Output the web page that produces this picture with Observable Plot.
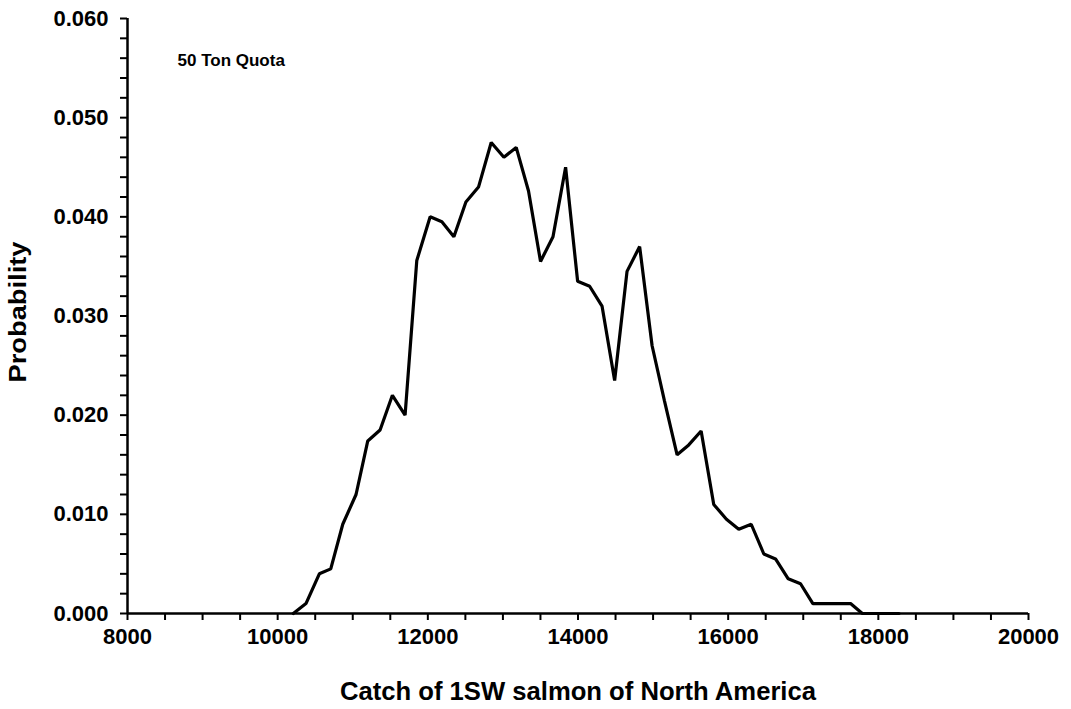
<!DOCTYPE html>
<html>
<head>
<meta charset="utf-8">
<script src="https://cdn.jsdelivr.net/npm/d3@7"></script>
<script src="https://cdn.jsdelivr.net/npm/@observablehq/plot@0.6"></script>
<style>
  html, body { margin: 0; padding: 0; background: #fff; }
  #chart { width: 1071px; height: 709px; }
</style>
</head>
<body>
<div id="chart"></div>
<script>
// Catch values (x)
const catchValues = [10208, 10377, 10555, 10707, 10867, 11044, 11200, 11364, 11528, 11697,
  11853, 12031, 12187, 12347, 12507, 12675, 12844, 13013, 13177, 13341,
  13501, 13667, 13835, 13995, 14155, 14320, 14488, 14653, 14821, 14987,
  15150, 15320, 15475, 15640, 15808, 15977, 16141, 16307, 16475, 16631,
  16800, 16964, 17128, 17290, 17460, 17630, 17787, 17950, 18120, 18275];
// Probability values (y)
const probabilities = [0, 0.001, 0.004, 0.0045, 0.009, 0.012, 0.0174, 0.0185, 0.022, 0.020,
  0.0356, 0.040, 0.0395, 0.038, 0.0415, 0.043, 0.0475, 0.046, 0.047, 0.0426,
  0.0355, 0.038, 0.045, 0.0335, 0.033, 0.031, 0.0235, 0.0345, 0.037, 0.027,
  0.0215, 0.016, 0.017, 0.0184, 0.011, 0.0095, 0.0085, 0.009, 0.006, 0.0055,
  0.0035, 0.003, 0.001, 0.001, 0.001, 0.001, 0, 0, 0, 0];

const xMajorTicks = [8000, 10000, 12000, 14000, 16000, 18000, 20000];
const xMinorTicks = [8500, 9000, 9500, 10500, 11000, 11500, 12500, 13000, 13500, 14500, 15000, 15500, 16500, 17000, 17500, 18500, 19000, 19500];
const yMajorTicks = [0, 0.01, 0.02, 0.03, 0.04, 0.05, 0.06];
const yMinorTicks = [0.002, 0.004, 0.006, 0.008, 0.012, 0.014, 0.016, 0.018, 0.022, 0.024, 0.026, 0.028,
  0.032, 0.034, 0.036, 0.038, 0.042, 0.044, 0.046, 0.048, 0.052, 0.054, 0.056, 0.058];

const annotation = "50 Ton Quota";
const xTitle = "Catch of 1SW salmon of North America";
const yTitle = "Probability";

const data = catchValues.map((x, i) => ({x, y: probabilities[i]}));

const chart = Plot.plot({
  width: 1071,
  height: 709,
  marginLeft: 127,
  marginRight: 43,
  marginTop: 18,
  marginBottom: 96,
  style: {fontFamily: "'Liberation Sans', Arial, sans-serif", fontWeight: "bold", fontSize: "22px", color: "#000", background: "#fff", overflow: "visible"},
  x: {domain: [8000, 20000], label: null},
  y: {domain: [0, 0.06], label: null},
  marks: [
    Plot.axisX(xMinorTicks, {tickSize: 7, text: null, strokeWidth: 2, label: null}),
    Plot.axisX(xMajorTicks, {tickSize: 7, tickPadding: 8, tickFormat: d => String(d), strokeWidth: 2, label: null, fontSize: 22, fill: "#000"}),
    Plot.axisY(yMinorTicks, {tickSize: 7, text: null, strokeWidth: 2, label: null}),
    Plot.axisY(yMajorTicks, {tickSize: 7, tickPadding: 12, tickFormat: d3.format(".3f"), strokeWidth: 2, label: null, fontSize: 22, fill: "#000"}),
    Plot.ruleX([8000], {strokeWidth: 2.5, stroke: "#000"}),
    Plot.ruleY([0], {strokeWidth: 2.5, stroke: "#000"}),
    Plot.line(data, {x: "x", y: "y", stroke: "#000", strokeWidth: 3.2, strokeLinejoin: "miter"}),
    Plot.text([annotation], {frameAnchor: "top-left", dx: 50, dy: 42, lineAnchor: "middle", textAnchor: "start", fontSize: 17, fontWeight: "bold", fill: "#000"}),
    Plot.text([xTitle], {frameAnchor: "bottom", dy: 78, lineAnchor: "middle", textAnchor: "middle", fontSize: 25, fontWeight: "bold", fill: "#000"}),
    Plot.text([yTitle], {frameAnchor: "left", dx: -109, dy: -4, rotate: -90, lineAnchor: "middle", textAnchor: "middle", fontSize: 24, fontWeight: "bold", fill: "#000"})
  ]
});
document.getElementById("chart").appendChild(chart);
// stretch the titles to the widths seen in the reference
d3.select(chart).selectAll("text")
  .filter(function() { return this.textContent === xTitle; })
  .attr("textLength", 476).attr("lengthAdjust", "spacingAndGlyphs");
d3.select(chart).selectAll("text")
  .filter(function() { return this.textContent === yTitle; })
  .attr("textLength", 141).attr("lengthAdjust", "spacingAndGlyphs");
</script>
</body>
</html>
